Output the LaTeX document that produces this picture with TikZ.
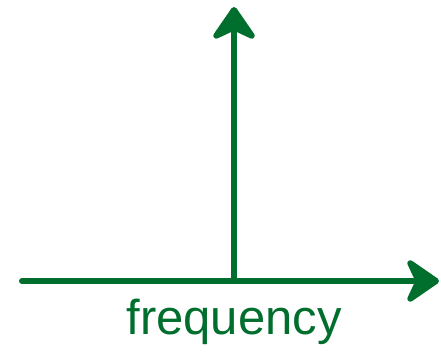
\documentclass[tikz,border=0pt]{standalone}
\usepackage{fontspec}
\setmainfont{Liberation Sans}
\usepackage{xcolor}
\usetikzlibrary{arrows.meta,positioning}
\definecolor{axisgreen}{RGB}{0,110,45}

\begin{document}
\begin{tikzpicture}[x=1pt, y=1pt, >={Stealth[length=38pt, width=52pt, inset=12pt, round]}]
\useasboundingbox (0,0) rectangle (441,352);
\tikzset{axisline/.style={draw=axisgreen, fill=axisgreen, line width=6pt, line cap=round}}
% Axes
\coordinate (left) at (22,71);
\coordinate (right) at (439,71);
\coordinate (base) at (234,71);
\coordinate (top) at (234,345);
\draw[axisline, ->] (left) -- (right);
\draw[axisline, ->] (base) -- (top);

% Axis label
\node[anchor=base, text=axisgreen, font=\fontsize{49}{49}\selectfont, inner sep=0pt] (label) at (234,17) {frequency};
\end{tikzpicture}
\end{document}
